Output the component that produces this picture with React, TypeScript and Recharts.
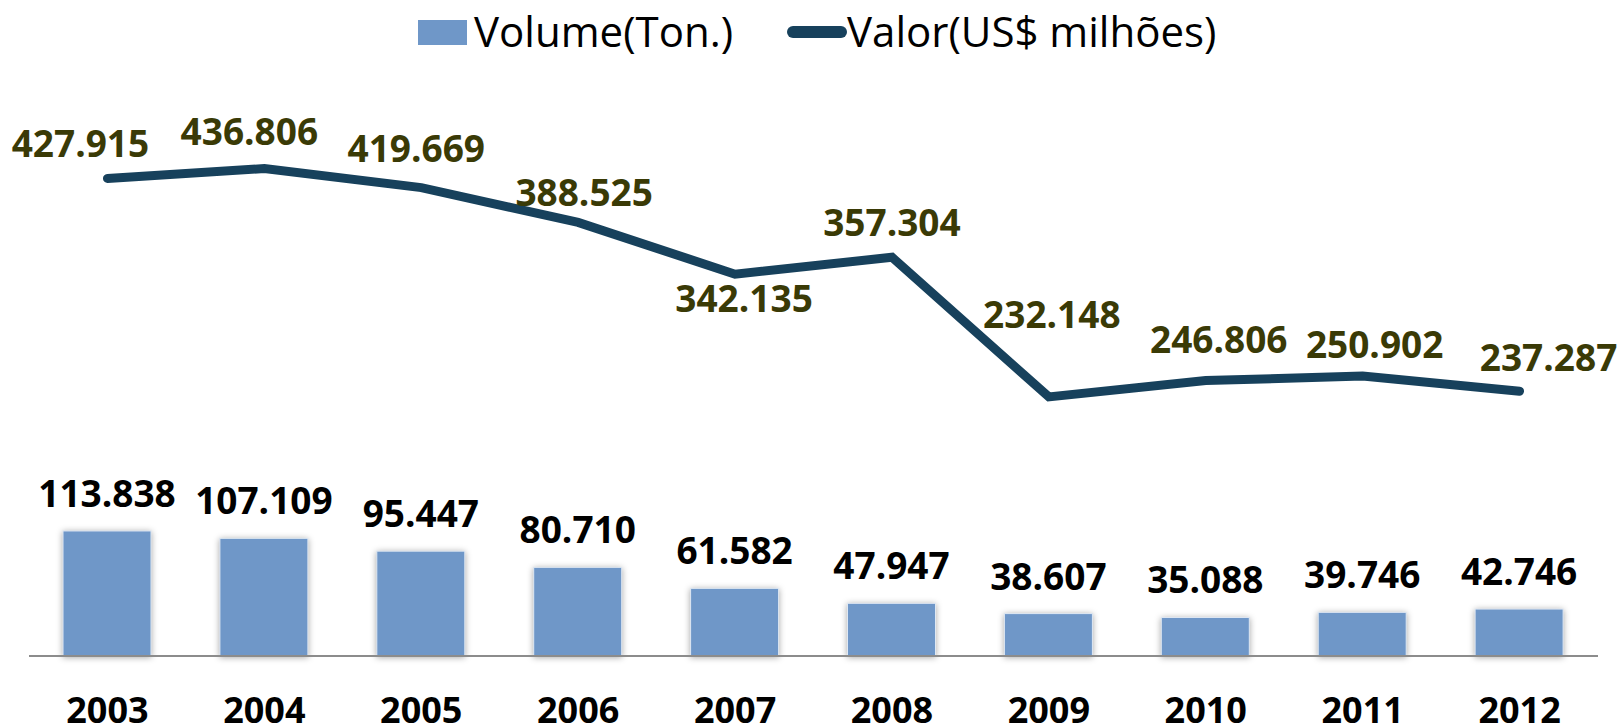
import React from "react";
import { ComposedChart, Bar, Line, XAxis, YAxis, LabelList } from "recharts";

const years = ["2003", "2004", "2005", "2006", "2007", "2008", "2009", "2010", "2011", "2012"];
const volume = [113.838, 107.109, 95.447, 80.71, 61.582, 47.947, 38.607, 35.088, 39.746, 42.746];
const valor = [427.915, 436.806, 419.669, 388.525, 342.135, 357.304, 232.148, 246.806, 250.902, 237.287];

const data = years.map((y, i) => ({ year: y, volume: volume[i], valor: valor[i] }));

// label placement (dx, baseline dy) relative to each line point, as in the original layout
const lineLabelOffsets: [number, number][] = [
  [-27, -21],
  [-15, -24],
  [-5, -26],
  [6, -16],
  [9, 38],
  [0, -21],
  [3, -69],
  [13, -28],
  [12, -18],
  [29, -20],
];

const FONT = "'Open Sans', 'Noto Sans', sans-serif";
const BAR_COLOR = "#6f97c8";
const LINE_COLOR = "#17415c";
const LABEL_OLIVE = "#3a3a06";

const fmt = (v: number) => v.toFixed(3);

const BarLabel = (props: any) => {
  const { x, y, width, value } = props;
  return (
    <text
      x={Number(x) + Number(width) / 2}
      y={Number(y) - 24}
      textAnchor="middle"
      fontFamily={FONT}
      fontWeight={700}
      fontSize={37}
      fill="#000"
    >
      {fmt(Number(value))}
    </text>
  );
};

const LineLabel = (props: any) => {
  const { x, y, value, index } = props;
  const [dx, dy] = lineLabelOffsets[index] || [0, -20];
  return (
    <text
      x={Number(x) + dx}
      y={Number(y) + dy}
      textAnchor="middle"
      fontFamily={FONT}
      fontWeight={700}
      fontSize={37}
      fill={LABEL_OLIVE}
    >
      {fmt(Number(value))}
    </text>
  );
};

const YearTick = (props: any) => {
  const { x, y, payload } = props;
  return (
    <text
      x={x}
      y={Number(y) + 59}
      textAnchor="middle"
      fontFamily={FONT}
      fontWeight={700}
      fontSize={36}
      fill="#000"
    >
      {payload.value}
    </text>
  );
};

const ShadowBar = (props: any) => {
  const { x, y, width, height } = props;
  return (
    <rect
      x={x}
      y={y}
      width={width}
      height={height}
      fill={BAR_COLOR}
      stroke="#dfe8f3"
      strokeWidth={1}
      style={{ filter: "drop-shadow(0px 1px 3px rgba(0,0,0,0.35))" }}
    />
  );
};

const LegendOverlay = () => (
  <svg
    width={1621}
    height={70}
    style={{ position: "absolute", left: 0, top: 0, pointerEvents: "none" }}
  >
    <rect x={418} y={20} width={49} height={25} fill={BAR_COLOR} />
    <text x={474} y={47} fontFamily={FONT} fontSize={42} fill="#000">
      Volume(Ton.)
    </text>
    <line
      x1={793}
      y1={32}
      x2={841}
      y2={32}
      stroke={LINE_COLOR}
      strokeWidth={12}
      strokeLinecap="round"
    />
    <text x={847} y={47} fontFamily={FONT} fontSize={42} fill="#000">
      Valor(US$ milhões)
    </text>
  </svg>
);

export default function App() {
  return (
    <div style={{ position: "absolute", left: 0, top: 0, width: 1621, height: 728, background: "#fff" }}>
      <ComposedChart
        width={1621}
        height={728}
        data={data}
        margin={{ top: 98, right: 23, bottom: 42, left: 29 }}
      >
        <XAxis
          dataKey="year"
          height={30}
          axisLine={{ stroke: "#8c8c8c", strokeWidth: 2 }}
          tickLine={false}
          tick={<YearTick />}
          interval={0}
        />
        <YAxis yAxisId="bar" hide domain={[0, 508]} />
        <YAxis yAxisId="line" hide domain={[0, 500]} />
        <Bar
          yAxisId="bar"
          dataKey="volume"
          barSize={88}
          shape={<ShadowBar />}
          isAnimationActive={false}
        >
          <LabelList dataKey="volume" content={<BarLabel />} />
        </Bar>
        <Line
          yAxisId="line"
          dataKey="valor"
          stroke={LINE_COLOR}
          strokeWidth={9}
          strokeLinecap="round"
          strokeLinejoin="miter"
          dot={false}
          activeDot={false}
          isAnimationActive={false}
        >
          <LabelList dataKey="valor" content={<LineLabel />} />
        </Line>
      </ComposedChart>
      <LegendOverlay />
    </div>
  );
}
